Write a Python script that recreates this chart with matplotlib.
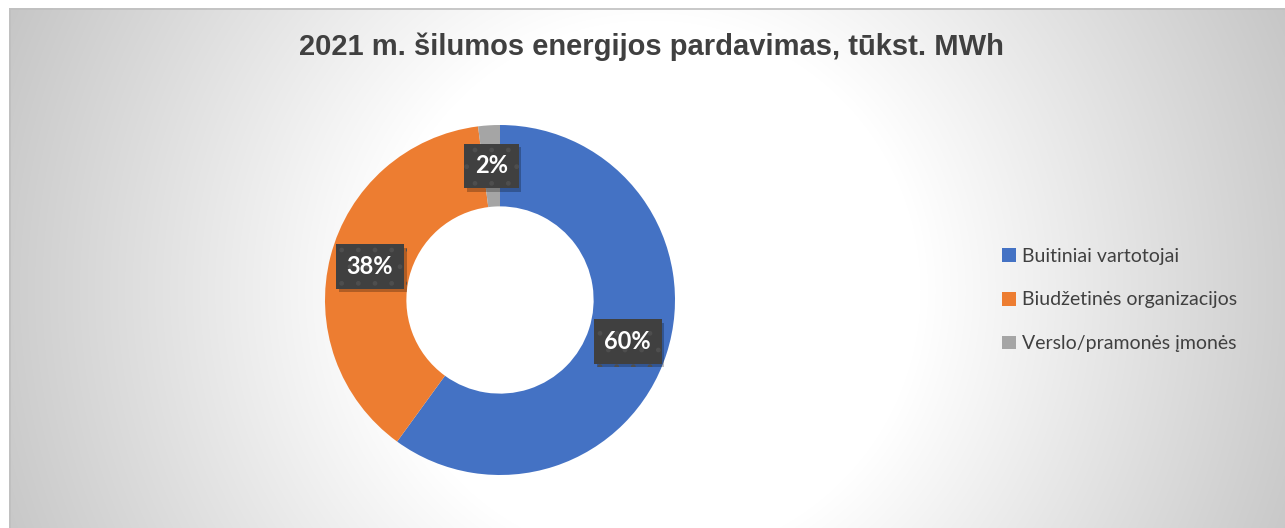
import numpy as np
import matplotlib
matplotlib.use("Agg")
import matplotlib.pyplot as plt
from matplotlib import patheffects
from matplotlib.patches import Rectangle

# data
labels = ["Buitiniai vartotojai", "Biudžetinės organizacijos", "Verslo/pramonės įmonės"]
shares = [60, 38, 2]
pct_text = ["60%", "38%", "2%"]
colors = ["#4472C4", "#ED7D31", "#A5A5A5"]
title = "2021 m. šilumos energijos pardavimas, tūkst. MWh"

W, H = 1285, 528
fig = plt.figure(figsize=(W / 100, H / 100), dpi=100, facecolor="white")

# background panel with radial grey-white gradient
x0, y0 = 9, 8
bg = fig.add_axes([x0 / W, 0, 1 - x0 / W, (H - y0) / H])
bg.set_axis_off()
pw, ph = W - x0, H - y0
yy, xx = np.mgrid[0:ph, 0:pw]
d = np.hypot(xx - (650 - x0), yy - (290 - y0))
t = np.clip((d - 270) / 450, 0, 1)
g = 1.0 - t * (1.0 - 0.765)
bg.imshow(np.dstack([g, g, g]), extent=(0, pw, ph, 0), aspect="auto")
bg.set_xlim(0, pw)
bg.set_ylim(ph, 0)
bg.add_patch(Rectangle((0.5, 0.5), pw, ph, fill=False, ec="#bfbfbf", lw=1.2))

# donut
cx, cy, R = 500, H - 300, 175
half = 200
ax = fig.add_axes([(cx - half) / W, (cy - half) / H, 2 * half / W, 2 * half / H])
ax.set_axis_off()
inner = 0.535
wedges, _ = ax.pie(shares, colors=colors, startangle=90, counterclock=False,
                   radius=1, wedgeprops=dict(width=1 - inner, linewidth=0))
lim = half / R
ax.set_xlim(-lim, lim)
ax.set_ylim(-lim, lim)

# data labels in dark boxes
plt.rcParams["hatch.linewidth"] = 1.0
rmid = (1 + inner) / 2
for w, txt in zip(wedges, pct_text):
    ang = np.deg2rad((w.theta1 + w.theta2) / 2)
    tx = ax.text(rmid * np.cos(ang), rmid * np.sin(ang), txt, ha="center", va="center",
                 color="white", fontsize=17, fontweight="bold", family="Lato",
                 bbox=dict(boxstyle="square,pad=0.45", fc="#404040", ec="#4e4e4e",
                           lw=0, hatch="."))
    tx.get_bbox_patch().set_path_effects([
        patheffects.withSimplePatchShadow(offset=(2, -2.5), shadow_rgbFace="black", alpha=0.25)])

fig.text(651 / W, 1 - 47 / H, title, ha="center", va="center", fontsize=21,
         fontweight="bold", color="#404040", family="Liberation Sans")

fig.legend(wedges, labels, loc="center left", bbox_to_anchor=(984 / W, 1 - 300 / H),
           frameon=False, labelcolor="#404040",
           prop=dict(family="Lato", size=14),
           handlelength=0.72, handleheight=0.72, handletextpad=0.35, labelspacing=1.38)

fig.savefig("out.png", dpi=100, facecolor="white")
